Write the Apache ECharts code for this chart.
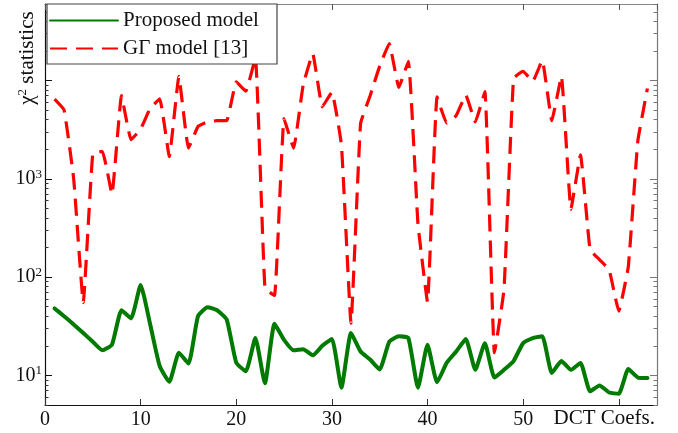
<!DOCTYPE html>
<html>
<head>
<meta charset="utf-8">
<script src="https://cdn.jsdelivr.net/npm/echarts@6/dist/echarts.min.js"></script>
<style>
html,body{margin:0;padding:0;background:#fff;}
#chart{width:678px;height:433px;}
</style>
</head>
<body>
<div id="chart"></div>
<script>
var coefs = [];
for (var k = 1; k <= 63; k++) coefs.push(k);

var proposed = [48, 40, 33, 27, 22, 18, 20.5, 46, 38, 83,
  33, 12.4, 8.6, 17, 13.2, 40, 49.5, 46, 37, 13.5,
  11, 24, 8.3, 33.5, 23, 18, 18.5, 16, 20, 23.5,
  7.5, 27, 17.5, 14.5, 11.5, 22, 25, 24, 7.5, 20.5,
  8.5, 13.4, 17.5, 23.4, 11.4, 21.3, 9.5, 11.4, 14, 21.3,
  24, 25, 10.6, 14, 11.4, 13.4, 6.9, 7.9, 6.7, 6.5,
  11.6, 9.5, 9.4];

var ggamma = [6450, 5000, 1000, 55, 1800, 1900, 700, 7000, 2500, 3200,
  5200, 6500, 1680, 11000, 2050, 3400, 3800, 3900, 3900, 9700,
  7800, 17000, 77, 65, 4100, 2050, 9000, 18700, 5400, 7600,
  2200, 34, 3650, 7000, 14000, 23700, 8500, 15700, 350, 56,
  6800, 3700, 4400, 7100, 3800, 7700, 17, 75, 10500, 12400,
  9800, 16000, 3900, 11000, 490, 1750, 190, 150, 118, 45,
  128, 2450, 8300];

var seriesNames = ['Proposed model', 'G\u0393 model [13]'];
var xTickLabels = ['0', '10', '20', '30', '40', '50'];
var yMajorTicks = [10, 100, 1000, 10000];
var yTickLabels = [10, 100, 1000];

var yMin = 5, yMax = 60000;
var yMinorTicks = [];
for (var e = 0; e <= 4; e++) {
  for (var m = 2; m <= 9; m++) {
    var v = m * Math.pow(10, e);
    if (v >= yMin && v <= yMax) yMinorTicks.push(v);
  }
}

function pairs(ys) {
  return coefs.map(function (c, i) { return [c, ys[i]]; });
}

var FONT = 'Liberation Serif';
var chart = echarts.init(document.getElementById('chart'), null, {renderer: 'canvas'});

function yAxisBase(pos, showLabel, tickVals, tickLen, lineColor, showLine) {
  return {
    type: 'log', logBase: 10, min: yMin, max: yMax, position: pos,
    axisLine: {show: showLine, lineStyle: {color: lineColor, width: 1.2}},
    axisTick: {show: true, inside: true, length: tickLen, customValues: tickVals,
      lineStyle: {color: lineColor, width: 1}},
    splitLine: {show: false},
    minorTick: {show: false},
    axisLabel: showLabel ? {
      show: true, customValues: yTickLabels, margin: 3,
      fontFamily: FONT, fontSize: 20, color: '#111', lineHeight: 22,
      formatter: function (val) {
        return '10{s|' + Math.round(Math.log10(val)) + '}';
      },
      rich: {s: {fontFamily: FONT, fontSize: 13, lineHeight: 13, verticalAlign: 'top', color: '#111'}}
    } : {show: false}
  };
}

var option = {
  animation: false,
  backgroundColor: '#fff',
  grid: {left: 45, right: 21, top: 4, bottom: 28, containLabel: false},
  legend: {
    orient: 'vertical', left: 47, top: 4,
    padding: [6, 9, 5, 2], itemGap: 7,
    itemWidth: 68, itemHeight: 14,
    backgroundColor: '#fff', borderColor: '#444', borderWidth: 1.2,
    selectedMode: false,
    itemStyle: {opacity: 0},
    textStyle: {fontFamily: FONT, fontSize: 21, color: '#111', width: 145, lineHeight: 20},
    data: seriesNames
  },
  xAxis: [{
    type: 'value', min: 0, max: 64, interval: 10, position: 'bottom',
    axisLine: {show: true, onZero: false, lineStyle: {color: '#111', width: 1.2}},
    axisTick: {show: true, inside: true, length: 6, lineStyle: {color: '#333'}},
    splitLine: {show: false},
    axisLabel: {
      fontFamily: FONT, fontSize: 20, color: '#111', margin: 5, showMaxLabel: false,
      formatter: function (v) {
        var s = String(v);
        return xTickLabels.indexOf(s) >= 0 ? s : '';
      }
    }
  }, {
    type: 'value', min: 0, max: 64, interval: 10, position: 'top',
    axisLine: {show: true, onZero: false, lineStyle: {color: '#888', width: 1.2}},
    axisTick: {show: true, inside: true, length: 6, lineStyle: {color: '#555'}},
    splitLine: {show: false},
    axisLabel: {show: false}
  }],
  yAxis: [
    yAxisBase('left', true, yMajorTicks, 7, '#111', true),
    yAxisBase('left', false, yMinorTicks, 3.5, '#333', false),
    yAxisBase('right', false, yMajorTicks, 7, '#777', true),
    yAxisBase('right', false, yMinorTicks, 3.5, '#777', false)
  ],
  series: [{
    name: seriesNames[0], type: 'line', data: pairs(proposed),
    xAxisIndex: 0, yAxisIndex: 0, symbol: 'none', smooth: 0.15,
    lineStyle: {color: '#007a00', width: 4, cap: 'round', join: 'round'},
    itemStyle: {color: '#007a00'}
  }, {
    name: seriesNames[1], type: 'line', data: pairs(ggamma),
    xAxisIndex: 0, yAxisIndex: 0, symbol: 'none', smooth: 0.1,
    lineStyle: {color: '#ff0000', width: 3.2, type: [17, 9], cap: 'butt'},
    itemStyle: {color: '#ff0000'}
  }],
  graphic: [{
    type: 'text', x: 27, y: 58, rotation: Math.PI / 2,
    style: {
      text: '{a|\u03c7}{s|2}{a| statistics}',
      align: 'center', verticalAlign: 'middle',
      rich: {
        a: {fontFamily: FONT, fontSize: 21, fill: '#111', lineHeight: 22},
        s: {fontFamily: FONT, fontSize: 13, fill: '#111', lineHeight: 13, verticalAlign: 'top'}
      }
    }
  }, {
    type: 'text', x: 655, y: 418,
    style: {
      text: 'DCT Coefs.', fontFamily: FONT, fontSize: 21, fill: '#111',
      align: 'right', verticalAlign: 'middle'
    }
  }]
};
chart.setOption(option);
</script>
</body>
</html>
